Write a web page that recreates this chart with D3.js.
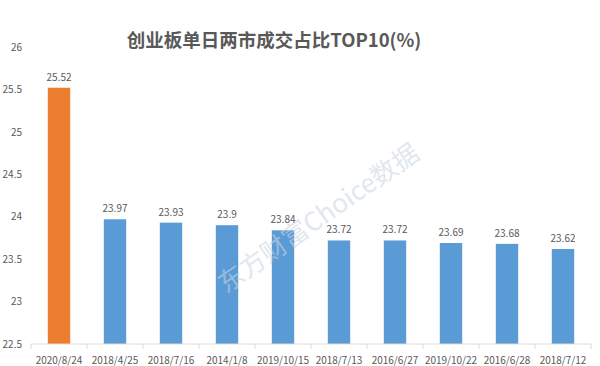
<!DOCTYPE html>
<meta charset="utf-8">
<style>
body { margin: 0; background: #fff; }
text { font-family: "Noto Sans CJK SC", "Open Sans", sans-serif; fill: #595959; }
.title { font-size: 18.5px; font-weight: bold; text-anchor: middle; }
.tick text { font-size: 10px; }
.label { font-size: 10px; text-anchor: middle; }
.mark { font-size: 26px; fill: #c8d4e2; opacity: 0.55; }
</style>
<svg width="600" height="366"></svg>
<script src="https://cdn.jsdelivr.net/npm/d3@7/dist/d3.min.js"></script>
<script>

var dates = ["2020/8/24", "2018/4/25", "2018/7/16", "2014/1/8", "2019/10/15",
             "2018/7/13", "2016/6/27", "2019/10/22", "2016/6/28", "2018/7/12"],
    shares = [25.52, 23.97, 23.93, 23.9, 23.84, 23.72, 23.72, 23.69, 23.68, 23.62],
    yTicks = [22.5, 23, 23.5, 24, 24.5, 25, 25.5, 26];

var svg = d3.select("svg");

var x = d3.scaleBand()
    .domain(dates)
    .range([31, 591])
    .paddingInner(0.6)
    .paddingOuter(0.3);

var y = d3.scaleLinear()
    .domain([22.5, 26])
    .range([344, 47]);

svg.append("text")
    .attr("class", "title")
    .attr("x", 274)
    .attr("y", 47)
    .text("创业板单日两市成交占比TOP10(%)");

// y axis: labels only
var yAxis = svg.append("g")
    .attr("transform", "translate(22,0)")
    .call(d3.axisLeft(y).tickValues(yTicks).tickSize(0).tickPadding(0)
      .tickFormat(function(d) { return d; }));
yAxis.select(".domain").remove();

svg.selectAll(".bar")
    .data(shares)
  .enter().append("rect")
    .attr("class", "bar")
    .attr("x", function(d, i) { return x(dates[i]); })
    .attr("y", function(d) { return y(d); })
    .attr("width", x.bandwidth())
    .attr("height", function(d) { return y(22.5) - y(d); })
    .attr("fill", function(d, i) { return i === 0 ? "#ed7d31" : "#5b9bd5"; });

svg.selectAll(".label")
    .data(shares)
  .enter().append("text")
    .attr("class", "label")
    .attr("x", function(d, i) { return x(dates[i]) + x.bandwidth() / 2; })
    .attr("y", function(d) { return y(d) - 7; })
    .text(function(d) { return d; });

// watermark sits over the bars
svg.append("text")
    .attr("class", "mark")
    .attr("transform", "translate(226,294) rotate(-35)")
    .text("东方财富Choice数据");

// x axis with ticks between categories
var xAxis = svg.append("g")
    .attr("transform", "translate(0,344)")
    .call(d3.axisBottom(x).tickSize(0).tickPadding(13));
xAxis.select(".domain").attr("stroke", "#d9d9d9").attr("d", "M31,0H591");
xAxis.selectAll(".sep")
    .data(d3.range(dates.length + 1))
  .enter().append("line")
    .attr("class", "sep")
    .attr("x1", function(i) { return 31 + i * x.step(); })
    .attr("x2", function(i) { return 31 + i * x.step(); })
    .attr("y1", 0)
    .attr("y2", 5)
    .attr("stroke", "#d9d9d9");

</script>
